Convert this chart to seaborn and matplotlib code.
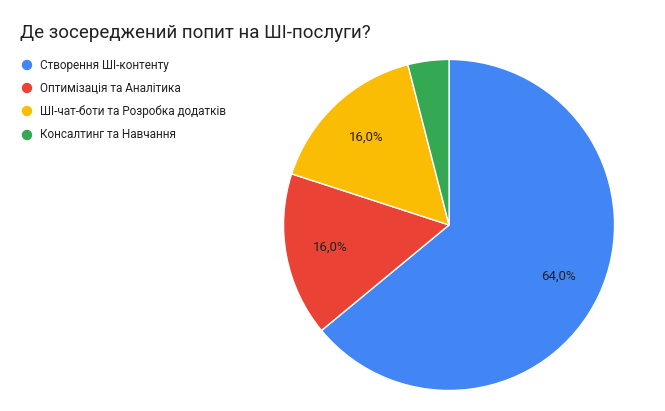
import matplotlib
matplotlib.use("Agg")
import matplotlib.pyplot as plt
import seaborn as sns

categories = ["Створення ШІ-контенту", "Оптимізація та Аналітика",
              "ШІ-чат-боти та Розробка додатків", "Консалтинг та Навчання"]
values = [64, 16, 16, 4]
colors = sns.color_palette(["#4285F4", "#EA4335", "#FBBC04", "#34A853"])

sns.set_style("white")
plt.rcParams['font.family'] = ['Roboto', 'DejaVu Sans']

fig = plt.figure(figsize=(6.65, 4.11), dpi=100)
ax = fig.add_axes([0.4256, 0.0487, 0.4993, 0.8078])

def fmt(p):
    return "" if p < 5 else f"{p:.1f}".replace(".", ",") + "%"

ax.pie(values, colors=colors, startangle=90, counterclock=False,
       autopct=fmt, pctdistance=0.73,
       wedgeprops=dict(edgecolor="white", linewidth=1),
       textprops=dict(fontsize=9.5, color="#222222"))
ax.set_xlim(-1.003, 1.003)
ax.set_ylim(-1.003, 1.003)
ax.set_aspect("equal")

fig.text(20 / 665, 1 - 33 / 411, "Де зосереджений попит на ШІ-послуги?",
         fontsize=13.5, color="#222222", va="center")

for i, (c, col) in enumerate(zip(categories, colors)):
    y = 1 - [65, 88, 111, 135][i] / 411
    fig.patches.append(matplotlib.patches.Ellipse((27 / 665, y), 9 / 665, 9 / 411,
                       transform=fig.transFigure, color=col, figure=fig))
    fig.text(40 / 665, y, c, fontsize=8.5, color="#222222", va="center")

fig.savefig("out.png", dpi=100)
